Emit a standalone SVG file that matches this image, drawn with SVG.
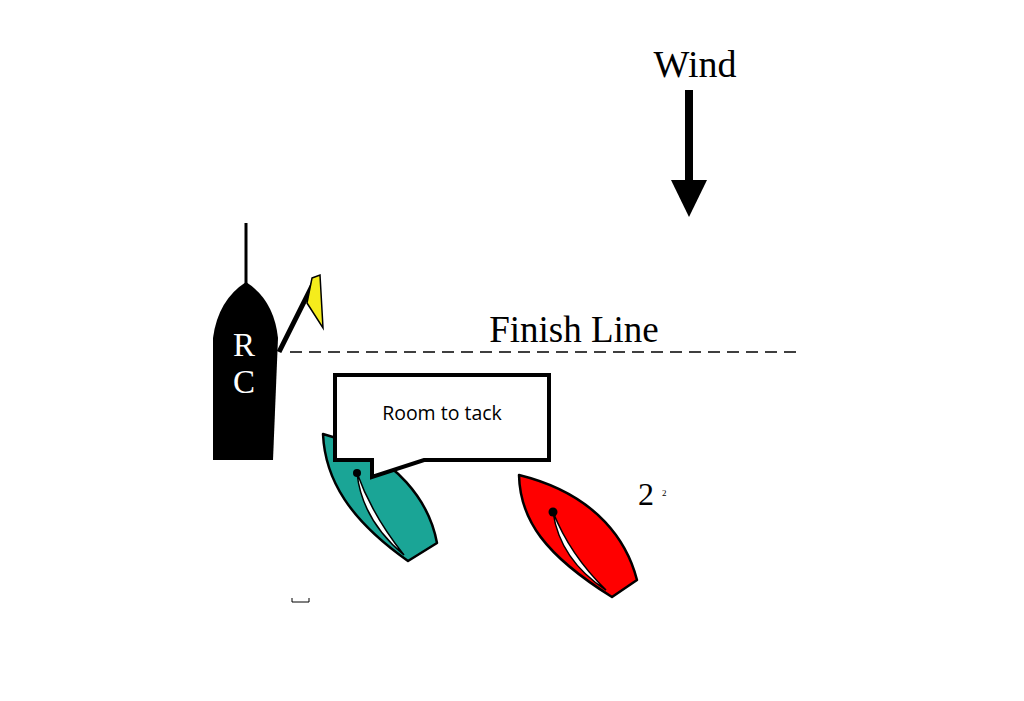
<svg xmlns="http://www.w3.org/2000/svg" width="1024" height="701" viewBox="0 0 1024 701">
<style>
.serif{font-family:"Liberation Serif",serif}
.hull{stroke:#000;stroke-width:2.5;stroke-linejoin:round}
</style>
<rect width="1024" height="701" fill="#fff"/>
<g id="wind">
<text x="695" y="77" class="serif" font-size="38" text-anchor="middle">Wind</text>
<rect x="685" y="90" width="8" height="92" fill="#000"/>
<polygon points="671,180 707,180 689,217" fill="#000"/>
</g>
<g id="finish">
<text x="574" y="342" class="serif" font-size="37" text-anchor="middle">Finish Line</text>
</g>
<g id="connectors">
<line x1="290" y1="352" x2="797" y2="352" stroke="#000" stroke-width="1.5" stroke-dasharray="12,7"/>
</g>
<g id="rc">
<line x1="246" y1="223" x2="246" y2="284" stroke="#000" stroke-width="3"/>
<path d="M246,282 Q274,300 278,338 L273,460 L213,460 L213,338 Q218,300 246,282Z" fill="#000"/>
<line x1="279" y1="352" x2="316" y2="278" stroke="#000" stroke-width="5"/>
<polygon points="312,278 320,275 323,328 307,303" fill="#f5ec1c" stroke="#000" stroke-width="1.5"/>
<text x="244" y="356" class="serif" font-size="33" fill="#fff" text-anchor="middle">R</text>
<text x="244" y="393" class="serif" font-size="33" fill="#fff" text-anchor="middle">C</text>
</g>
<g id="teal">
<path class="hull" d="M323,434 C400,455 430,505 437,543 L408,561 C350,520 325,480 323,434Z" fill="#1aa596"/>
<path d="M357,473 Q362,520 404,555 Q372,515 357,473Z" fill="#fff" stroke="#000" stroke-width="1.5"/>
<circle cx="357" cy="473" r="4" fill="#000"/>
</g>
<g id="callout">
<path d="M335,375 L549,375 L549,460 L424,460 L372,477 L372,460 L335,460Z" fill="#fff" stroke="#000" stroke-width="4"/>
<text x="442" y="420" font-family="Open Sans,sans-serif" font-size="19.5" text-anchor="middle">Room to tack</text>
</g>
<g id="red">
<path class="hull" d="M519,475 C600,495 628,545 637,580 L612,597 C545,555 520,520 519,475Z" fill="#f00"/>
<path d="M553,512 Q560,560 606,590 Q570,555 553,512Z" fill="#fff" stroke="#000" stroke-width="1.5"/>
<circle cx="553" cy="512" r="4.5" fill="#000"/>
</g>
<g id="label2">
<text x="638" y="505" class="serif" font-size="32">2</text>
<text x="662" y="496" class="serif" font-size="9">2</text>
</g>
<path d="M292,598 V602 H309 V598" fill="none" stroke="#000" stroke-width="1"/>
</svg>
